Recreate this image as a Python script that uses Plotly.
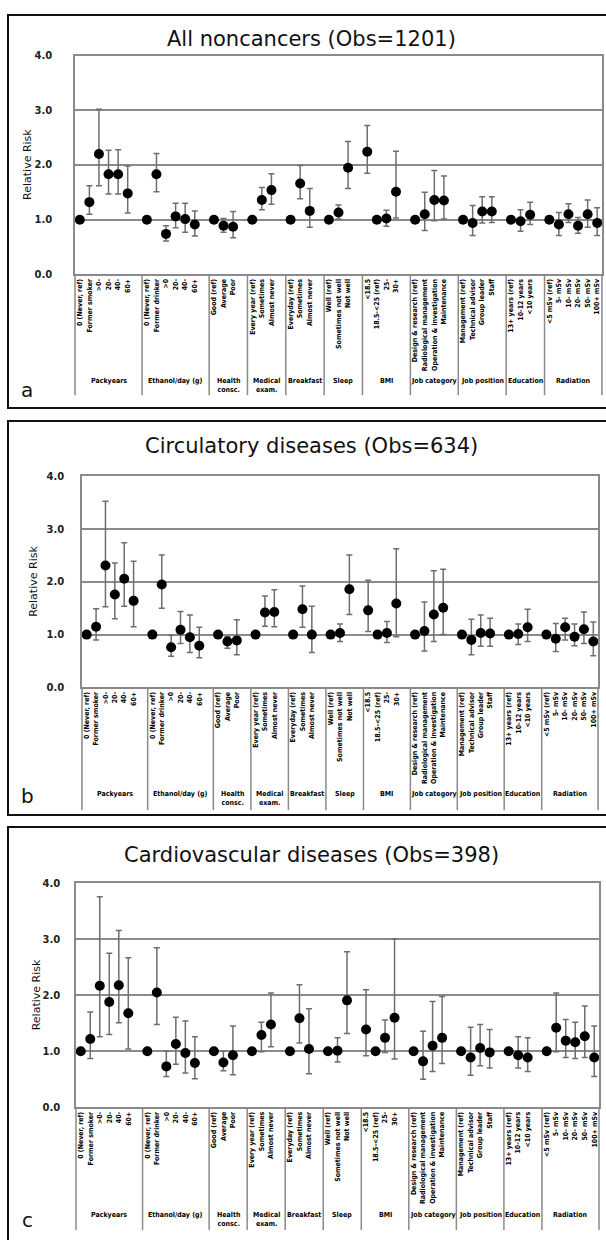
import plotly.graph_objects as go

W, H = 606, 1240

# ---------------- categories ----------------
group_names = ["Packyears", "Ethanol/day (g)", "Health<br>consc.", "Medical<br>exam.", "Breakfast",
               "Sleep", "BMI", "Job category", "Job position", "Education", "Radiation"]
packyears = ["0 (Never, ref)", "Former smoker", ">0-", "20-", "40-", "60+"]
ethanol = ["0 (Never, ref)", "Former drinker", ">0", "20-", "40-", "60+"]
health = ["Good (ref)", "Average", "Poor"]
medical = ["Every year (ref)", "Sometimes", "Almost never"]
breakfast = ["Everyday (ref)", "Sometimes", "Almost never"]
sleep = ["Well (ref)", "Sometimes not well", "Not well"]
bmi = ["<18.5", "18.5-<25 (ref)", "25-", "30+"]
job_category = ["Design & research (ref)", "Radiological management", "Operation & investigation", "Maintenance"]
job_position = ["Management (ref)", "Technical advisor", "Group leader", "Staff"]
education = ["13+ years (ref)", "10-12 years", "<10 years"]
radiation = ["<5 mSv (ref)", "5- mSv", "10- mSv", "20- mSv", "50- mSv", "100+ mSv"]
group_items = [packyears, ethanol, health, medical, breakfast, sleep, bmi,
               job_category, job_position, education, radiation]

# ---------------- values ----------------
# (a) All noncancers
rr_a = [1.00, 1.32, 2.20, 1.83, 1.83, 1.48,
        1.00, 1.83, 0.74, 1.06, 1.01, 0.91,
        1.00, 0.89, 0.87,
        1.00, 1.36, 1.54,
        1.00, 1.66, 1.16,
        1.00, 1.13, 1.95,
        2.24, 1.00, 1.02, 1.51,
        1.00, 1.10, 1.36, 1.35,
        1.00, 0.94, 1.15, 1.15,
        1.00, 0.97, 1.09,
        1.00, 0.91, 1.10, 0.89, 1.10, 0.94]
lo_a = [1.00, 1.10, 1.62, 1.47, 1.47, 1.12,
        1.00, 1.51, 0.61, 0.85, 0.77, 0.70,
        1.00, 0.77, 0.67,
        1.00, 1.18, 1.28,
        1.00, 1.38, 0.86,
        1.00, 1.01, 1.57,
        1.85, 1.00, 0.88, 1.03,
        1.00, 0.80, 0.98, 1.01,
        1.00, 0.71, 0.94, 0.95,
        1.00, 0.79, 0.91,
        1.00, 0.71, 0.95, 0.75, 0.86, 0.71]
hi_a = [1.00, 1.62, 3.02, 2.27, 2.28, 1.98,
        1.00, 2.21, 0.89, 1.30, 1.30, 1.16,
        1.00, 1.02, 1.15,
        1.00, 1.59, 1.84,
        1.00, 1.99, 1.57,
        1.00, 1.27, 2.43,
        2.72, 1.00, 1.17, 2.25,
        1.00, 1.50, 1.90, 1.80,
        1.00, 1.26, 1.42, 1.42,
        1.00, 1.18, 1.32,
        1.00, 1.13, 1.29, 1.04, 1.36, 1.22]

# (b) Circulatory diseases
rr_b = [1.00, 1.15, 2.31, 1.76, 2.06, 1.64,
        1.00, 1.95, 0.76, 1.09, 0.95, 0.79,
        1.00, 0.87, 0.89,
        1.00, 1.42, 1.43,
        1.00, 1.48, 1.00,
        1.00, 1.03, 1.86,
        1.46, 1.00, 1.03, 1.59,
        1.00, 1.07, 1.38, 1.51,
        1.00, 0.90, 1.03, 1.02,
        1.00, 1.01, 1.14,
        1.00, 0.92, 1.14, 0.96, 1.10, 0.87]
lo_b = [1.00, 0.90, 1.53, 1.30, 1.54, 1.15,
        1.00, 1.50, 0.59, 0.83, 0.66, 0.56,
        1.00, 0.74, 0.62,
        1.00, 1.16, 1.15,
        1.00, 1.14, 0.66,
        1.00, 0.87, 1.38,
        1.06, 1.00, 0.85, 0.96,
        1.00, 0.69, 0.87, 1.00,
        1.00, 0.62, 0.78, 0.78,
        1.00, 0.81, 0.87,
        1.00, 0.68, 0.90, 0.79, 0.83, 0.60]
hi_b = [1.00, 1.49, 3.53, 2.36, 2.74, 2.39,
        1.00, 2.51, 0.99, 1.44, 1.37, 1.14,
        1.00, 0.96, 1.28,
        1.00, 1.73, 1.85,
        1.00, 1.92, 1.54,
        1.00, 1.20, 2.51,
        2.03, 1.00, 1.25, 2.63,
        1.00, 1.62, 2.21, 2.24,
        1.00, 1.29, 1.37, 1.31,
        1.00, 1.20, 1.48,
        1.00, 1.21, 1.31, 1.20, 1.43, 1.24]

# (c) Cardiovascular diseases
rr_c = [1.00, 1.22, 2.17, 1.88, 2.18, 1.68,
        1.00, 2.05, 0.73, 1.13, 0.97, 0.79,
        1.00, 0.80, 0.93,
        1.00, 1.29, 1.48,
        1.00, 1.59, 1.04,
        1.00, 1.01, 1.91,
        1.39, 1.00, 1.24, 1.60,
        1.00, 0.82, 1.10, 1.24,
        1.00, 0.89, 1.06, 0.98,
        1.00, 0.93, 0.89,
        1.00, 1.42, 1.19, 1.16, 1.27, 0.89]
lo_c = [1.00, 0.87, 1.26, 1.30, 1.51, 1.04,
        1.00, 1.48, 0.55, 0.77, 0.61, 0.51,
        1.00, 0.65, 0.58,
        1.00, 0.99, 1.08,
        1.00, 1.15, 0.60,
        1.00, 0.81, 1.32,
        0.92, 1.00, 0.98, 0.86,
        1.00, 0.50, 0.64, 0.78,
        1.00, 0.57, 0.74, 0.70,
        1.00, 0.70, 0.64,
        1.00, 0.99, 0.89, 0.87, 0.89, 0.55]
hi_c = [1.00, 1.70, 3.76, 2.75, 3.16, 2.67,
        1.00, 2.85, 1.00, 1.61, 1.54, 1.26,
        1.00, 1.00, 1.45,
        1.00, 1.52, 2.04,
        1.00, 2.19, 1.76,
        1.00, 1.24, 2.78,
        2.10, 1.00, 1.56, 3.01,
        1.00, 1.36, 1.89, 1.98,
        1.00, 1.43, 1.48, 1.39,
        1.00, 1.26, 1.24,
        1.00, 2.04, 1.57, 1.52, 1.81, 1.45]

y_ticks = [0, 1, 2, 3, 4]

# ---------------- slot structure (one blank slot after each group) ----------------
positions, labels, bounds = [], [], []
slot = 0
for items in group_items:
    bounds.append(slot - 0.5)
    positions.extend(range(slot, slot + len(items)))
    labels.extend(items)
    slot += len(items) + 1
x_end = slot - 1.5
bounds.append(x_end)

def py(y):
    return 1 - y / H

def px(x):
    return x / W

GRAY = "#8a8a8a"
TICKFONT = "DejaVu Sans Condensed, Liberation Sans Narrow, Arial Narrow, sans-serif"

panels = [
    dict(title="All noncancers (Obs=1201)", letter="a", rr=rr_a, lo=lo_a, hi=hi_a,
         box=(75, 602, 50, 271), sep_bottom=393, group_y=373, title_y=33,
         ytitle_x=28, letter_y=388, frame=(8, 9, 406), standoff=19),
    dict(title="Circulatory diseases (Obs=634)", letter="b", rr=rr_b, lo=lo_b, hi=hi_b,
         box=(82, 598, 475, 688), sep_bottom=812, group_y=790, title_y=444,
         ytitle_x=34, letter_y=798, frame=(8, 419, 817), standoff=14),
    dict(title="Cardiovascular diseases (Obs=398)", letter="c", rr=rr_c, lo=lo_c, hi=hi_c,
         box=(76, 599, 886, 1112), sep_bottom=1236, group_y=1215, title_y=857,
         ytitle_x=36, letter_y=1226, frame=(8, 829, 1250), standoff=12),
]

fig = go.Figure()
shapes, annotations = [], []
layout_axes = {}

for i, p in enumerate(panels):
    n = "" if i == 0 else str(i + 1)
    xa, ya = "x" + n, "y" + n
    x0, x1, yt, yb = p["box"]
    fig.add_trace(go.Scatter(
        x=positions, y=p["rr"], xaxis=xa, yaxis=ya, mode="markers",
        marker=dict(color="black", size=10, symbol="circle"),
        error_y=dict(type="data", symmetric=False,
                     array=[h - r for h, r in zip(p["hi"], p["rr"])],
                     arrayminus=[r - l for r, l in zip(p["rr"], p["lo"])],
                     color="#6e6e6e", thickness=1.5, width=3),
        showlegend=False, hoverinfo="skip"))

    layout_axes["xaxis" + n] = dict(
        domain=[px(x0), px(x1)], anchor=ya, range=[-0.5, x_end],
        tickmode="array", tickvals=positions, ticktext=labels, tickangle=-90,
        tickfont=dict(family=TICKFONT, size=7, color="#000", weight="bold"),
        ticks="", showgrid=False, zeroline=False,
        showline=True, linecolor=GRAY, linewidth=1.5, mirror=True, fixedrange=True)
    layout_axes["yaxis" + n] = dict(
        domain=[py(yb), py(yt)], anchor=xa, range=[0, 4],
        tickmode="array", tickvals=y_ticks, tickformat=".1f",
        tickfont=dict(family="DejaVu Sans", size=10, color="#222", weight="bold"),
        ticks="", ticklabelstandoff=p["standoff"],
        showgrid=True, gridcolor=GRAY, gridwidth=1.5, zeroline=False,
        showline=True, linecolor=GRAY, linewidth=1.5, mirror=True, fixedrange=True)

    # outer panel frame
    fl, ft, fb = p["frame"]
    shapes.append(dict(type="rect", xref="paper", yref="paper",
                       x0=px(fl), x1=1.02, y0=py(fb), y1=py(ft),
                       line=dict(color="#111", width=2), layer="above"))
    # group separators extending below the axis
    for k, b in enumerate(bounds):
        if k == 0 or k == len(bounds) - 1:
            shapes.append(dict(type="line", xref=xa + " domain", yref="paper",
                               x0=0 if k == 0 else 1, x1=0 if k == 0 else 1,
                               y0=py(yb), y1=py(p["sep_bottom"]),
                               line=dict(color=GRAY, width=1.5)))
        else:
            shapes.append(dict(type="line", xref=xa, yref="paper", x0=b, x1=b,
                               y0=py(yb), y1=py(p["sep_bottom"]),
                               line=dict(color=GRAY, width=1.5)))
    # group names
    for k, g in enumerate(group_names):
        annotations.append(dict(x=(bounds[k] + bounds[k + 1]) / 2, y=py(p["group_y"]),
                                xref=xa, yref="paper", text=g, showarrow=False,
                                xanchor="center", yanchor="top",
                                font=dict(family=TICKFONT, size=7, color="#000", weight="bold")))
    # title
    annotations.append(dict(x=px(311), y=py(p["title_y"]), xref="paper", yref="paper",
                            text=p["title"], showarrow=False, xanchor="center", yanchor="middle",
                            font=dict(family="DejaVu Sans", size=21, color="#111")))
    # y title
    annotations.append(dict(x=px(p["ytitle_x"]), y=py((yt + yb) / 2), xref="paper", yref="paper",
                            text="Relative Risk", textangle=-90, showarrow=False,
                            xanchor="center", yanchor="middle",
                            font=dict(family="DejaVu Sans", size=11, color="#111")))
    # panel letter
    annotations.append(dict(x=px(27), y=py(p["letter_y"]), xref="paper", yref="paper",
                            text=p["letter"], showarrow=False, xanchor="center", yanchor="middle",
                            font=dict(family="DejaVu Sans", size=20, color="#111")))

fig.update_layout(
    width=W, height=H, margin=dict(l=0, r=0, t=0, b=0),
    paper_bgcolor="white", plot_bgcolor="white",
    shapes=shapes, annotations=annotations, showlegend=False,
    **layout_axes)

fig.write_html("out.html", config={"displayModeBar": False},
               post_script="document.body.style.margin='0';document.body.style.overflow='hidden';")
